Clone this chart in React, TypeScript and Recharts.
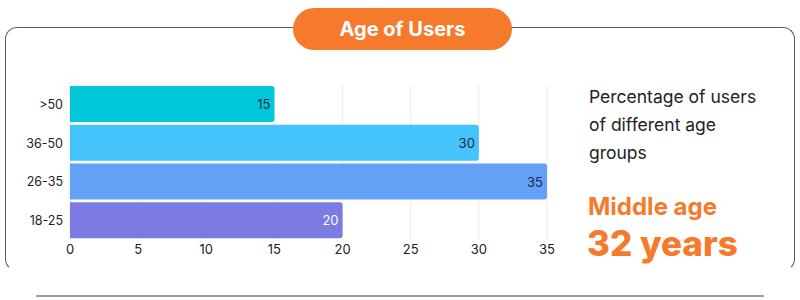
import { BarChart, Bar, XAxis, YAxis, CartesianGrid, Cell, LabelList } from 'recharts';

const ageGroups = ['>50', '36-50', '26-35', '18-25'];
const userShares = [15, 30, 35, 20];
const xTicks = [0, 5, 10, 15, 20, 25, 30, 35];
const barColors = ['#00C8DA', '#45C3FB', '#62A1F6', '#7C7BE4'];
const labelColors = ['#1f2a44', '#1f2a44', '#1f2a44', '#ffffff'];

const data = ageGroups.map((group, i) => ({ group, share: userShares[i] }));

const font = 'Inter, "Noto Sans", sans-serif';

export default function App() {
  return (
    <div style={{ position: 'absolute', left: 0, top: 0, width: 800, height: 300, background: '#fff', fontFamily: font, overflow: 'hidden' }}>
      {/* card outline */}
      <div style={{
        position: 'absolute', left: 5, top: 27, width: 790, height: 244, boxSizing: 'border-box',
        borderTop: '1.5px solid #5a5a5a', borderLeft: '1.5px solid #5a5a5a', borderRight: '1.5px solid #5a5a5a',
        borderBottom: '1.5px solid transparent', borderRadius: 12,
      }} />
      <div style={{ position: 'absolute', left: 36, top: 295, width: 728, height: 2, background: '#9a9a9a', borderRadius: 2 }} />

      {/* title pill */}
      <div style={{
        position: 'absolute', left: 293, top: 8, width: 219, height: 42, borderRadius: 21,
        background: '#F57A2C', color: '#fff', fontWeight: 700, fontSize: 20,
        display: 'flex', alignItems: 'center', justifyContent: 'center',
      }}>Age of Users</div>

      <div style={{ position: 'absolute', left: 0, top: 0 }}>
        <BarChart
          width={600}
          height={300}
          data={data}
          layout="vertical"
          margin={{ top: 85, right: 53, bottom: 40, left: 8 }}
          barSize={36}
        >
          <CartesianGrid horizontal={false} stroke="#ececec" />
          <XAxis
            type="number"
            domain={[0, 35]}
            ticks={xTicks}
            axisLine={false}
            tickLine={false}
            tickSize={0}
            tickMargin={5}
            height={20}
            tick={{ fontSize: 13, fill: '#222', fontFamily: font }}
          />
          <YAxis
            type="category"
            dataKey="group"
            width={62}
            axisLine={false}
            tickLine={false}
            tickSize={0}
            tickMargin={7}
            tick={{ fontSize: 12.5, fill: '#222', fontFamily: font }}
          />
          <Bar dataKey="share" radius={[0, 3, 3, 0]} isAnimationActive={false}>
            {data.map((d, i) => (
              <Cell key={d.group} fill={barColors[i]} />
            ))}
            <LabelList
              dataKey="share"
              position="insideRight"
              offset={4}
              content={(props: any) => {
                const { x, y, width, height, value, index } = props;
                return (
                  <text
                    x={x + width - 4}
                    y={y + height / 2}
                    textAnchor="end"
                    dominantBaseline="central"
                    fontSize={13}
                    fontFamily={font}
                    fill={labelColors[index]}
                  >
                    {value}
                  </text>
                );
              }}
            />
          </Bar>
        </BarChart>
      </div>

      {/* side note */}
      <div style={{ position: 'absolute', left: 589, top: 83, width: 205, fontSize: 17.5, lineHeight: '28px', color: '#222' }}>
        Percentage of users<br />of different age<br />groups
      </div>
      <div style={{ position: 'absolute', left: 588, top: 192, color: '#F57A2C', fontWeight: 700, fontSize: 24, lineHeight: '30px' }}>
        Middle age
      </div>
      <div style={{ position: 'absolute', left: 587, top: 223, color: '#F57A2C', fontWeight: 800, fontSize: 35, lineHeight: '40px' }}>
        32 years
      </div>
    </div>
  );
}
